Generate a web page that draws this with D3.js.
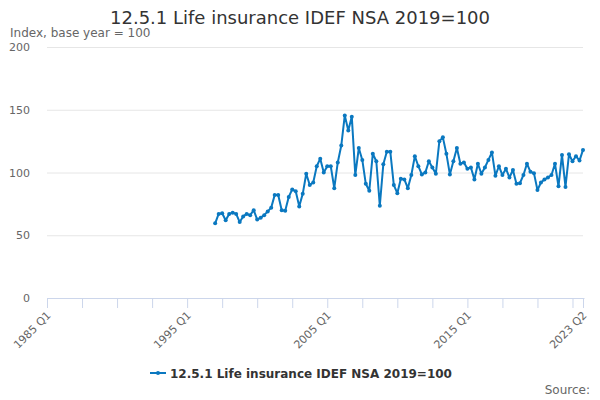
<!DOCTYPE html>
<html>
<head>
<meta charset="utf-8">
<script src="https://cdn.jsdelivr.net/npm/d3@7"></script>
<style>
  html, body { margin: 0; padding: 0; background: #fff; }
  svg { display: block; font-family: "DejaVu Sans", sans-serif; }
</style>
</head>
<body>
<svg id="chart" width="600" height="400"></svg>
<script>
// ---- Data ----
const titleText = "12.5.1 Life insurance IDEF NSA 2019=100";
const yAxisTitle = "Index, base year = 100";
const sourceText = "Source:";
const firstYear = 1985, lastYear = 2023, lastQuarter = 2;
const quarterNames = ["Q1", "Q2", "Q3", "Q4"];
const firstDataCategory = "1997 Q1";
// Quarterly values from 1997 Q1 to 2023 Q2
const values = [
  59.5, 67, 67.5, 62,      // 1997
  67, 68, 67, 60.5,        // 1998
  65, 67, 66, 70,          // 1999
  62.5, 64, 66, 69,        // 2000
  72, 82, 82, 70,          // 2001
  69.5, 80.5, 86.5, 85,    // 2002
  73, 83, 99, 90,          // 2003
  92, 105, 111, 100,       // 2004
  105, 105, 87.5, 108,     // 2005
  121.5, 145.5, 133.5, 144.5, // 2006
  98, 119.5, 110, 91,      // 2007
  85.5, 115, 109, 73.5,    // 2008
  106.5, 116.5, 116.5, 90, // 2009
  83.5, 95, 94.5, 87.5,    // 2010
  98, 113, 105, 98.5,      // 2011
  100, 109, 104, 99,       // 2012
  125, 128, 115, 98.5,     // 2013
  109, 119.5, 107, 108,    // 2014
  103, 104, 94.5, 107,     // 2015
  99, 104, 110, 116,       // 2016
  97.5, 105, 98, 103,      // 2017
  96, 102, 91, 91.5,       // 2018
  98, 107, 100.5, 99.5,    // 2019
  86, 92, 94.5, 96,        // 2020
  98, 107, 89, 114,        // 2021
  88.5, 114.5, 109, 113,   // 2022
  109.5, 118               // 2023
];
const yTicks = [0, 50, 100, 150, 200];
const xLabelEvery = 40;  // label every 10 years
const xTickEvery = 10;

// categories
const categories = [];
for (let y = firstYear; y <= lastYear; y++) {
  for (let q = 0; q < 4; q++) {
    if (y === lastYear && q >= lastQuarter) break;
    categories.push(y + " " + quarterNames[q]);
  }
}
const startIdx = categories.indexOf(firstDataCategory);
const series = values.map((v, i) => ({ cat: categories[startIdx + i], value: v }));

// ---- Layout ----
const svg = d3.select("#chart");
const plot = { left: 47, right: 583, top: 47, bottom: 298 };
const x = d3.scalePoint().domain(categories).range([plot.left, plot.right]);
const y = d3.scaleLinear().domain([0, 200]).range([plot.bottom, plot.top]);
const color = "#0a78c0";

// title
svg.append("text").attr("x", 300).attr("y", 24).attr("text-anchor", "middle")
  .attr("font-size", 18).attr("fill", "#333333").text(titleText);
svg.append("text").attr("x", 10).attr("y", 37)
  .attr("font-size", 12).attr("fill", "#666666").text(yAxisTitle);

// gridlines + y labels
const yAxis = d3.axisLeft(y).tickValues(yTicks).tickSize(-(plot.right - plot.left)).tickPadding(17);
const gy = svg.append("g").attr("transform", `translate(${plot.left},0)`).call(yAxis);
gy.select(".domain").remove();
gy.selectAll(".tick line").attr("stroke", "#e6e6e6");
gy.selectAll(".tick").filter(d => d === 0).select("line").remove();
gy.selectAll(".tick text").attr("font-size", 11).attr("fill", "#666666")
  .attr("font-family", "DejaVu Sans, sans-serif");

// x axis
const tickCats = categories.filter((c, i) => i % xTickEvery === 0 || i === categories.length - 1);
const labelCats = categories.filter((c, i) => i % xLabelEvery === 0 || i === categories.length - 1);
const xAxis = d3.axisBottom(x).tickValues(tickCats).tickSize(10).tickSizeOuter(0)
  .tickFormat(c => labelCats.includes(c) ? c : "");
const gx = svg.append("g").attr("transform", `translate(0,${plot.bottom})`).call(xAxis);
gx.select(".domain").attr("stroke", "#ccd6eb").attr("d", `M${plot.left},0.5H${plot.right + 1.5}`);
gx.selectAll(".tick line").attr("stroke", "#ccd6eb");
gx.selectAll(".tick text")
  .attr("font-size", 11).attr("fill", "#666666").attr("font-family", "DejaVu Sans, sans-serif")
  .attr("text-anchor", "end").attr("dy", null).attr("y", 0)
  .attr("transform", "translate(4,18) rotate(-45)");

// line
const line = d3.line().x(d => x(d.cat)).y(d => y(d.value));
svg.append("path").datum(series).attr("d", line)
  .attr("fill", "none").attr("stroke", color).attr("stroke-width", 2)
  .attr("stroke-linejoin", "round");
svg.append("g").selectAll("circle").data(series).join("circle")
  .attr("cx", d => x(d.cat)).attr("cy", d => y(d.value)).attr("r", 2)
  .attr("fill", color);

// legend
const lg = svg.append("g").attr("transform", "translate(150,373)");
lg.append("line").attr("x1", 0).attr("x2", 16).attr("y1", 0).attr("y2", 0)
  .attr("stroke", color).attr("stroke-width", 2);
lg.append("circle").attr("cx", 8).attr("cy", 0).attr("r", 2).attr("fill", color);
lg.append("text").attr("x", 20).attr("y", 5).attr("font-size", 12).attr("font-weight", "bold")
  .attr("fill", "#333333").text(titleText);

// source
svg.append("text").attr("x", 590).attr("y", 394).attr("text-anchor", "end")
  .attr("font-size", 12).attr("fill", "#666666").text(sourceText);
</script>
</body>
</html>
